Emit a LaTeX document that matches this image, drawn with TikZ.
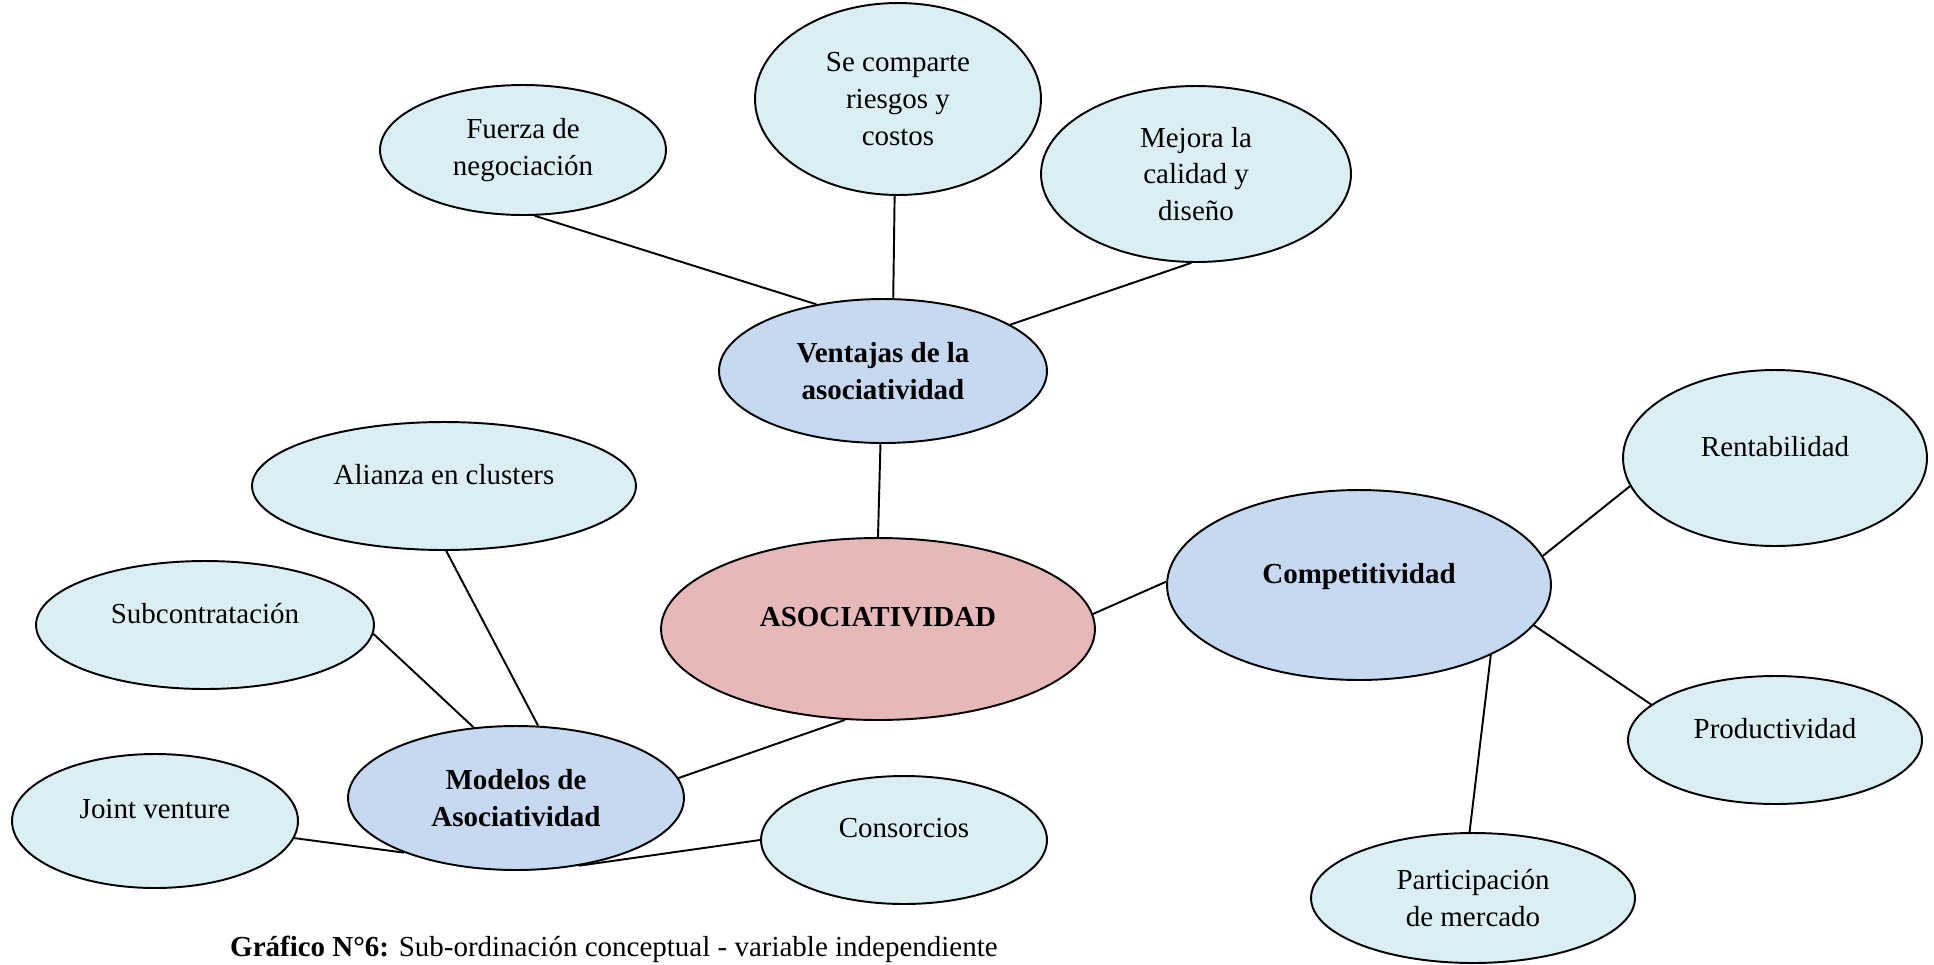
\documentclass[tikz,border=0pt]{standalone}
\usepackage{fontspec}
\setmainfont{Liberation Serif}
\usetikzlibrary{shapes.geometric}

\definecolor{leafblue}{HTML}{DBEEF4}
\definecolor{hubblue}{HTML}{C6D9F1}
\definecolor{corepink}{HTML}{E6B9B8}

\newcommand\bubblefont{\fontsize{16.5}{21}\selectfont}

\tikzset{
	bubble/.style={ellipse, draw=black, line width=1.1pt, inner sep=0pt, align=center, font=\bubblefont},
	leaf/.style={bubble, fill=leafblue},
	hub/.style={bubble, fill=hubblue, font=\bubblefont\bfseries},
	lifted/.style={text depth=0.48cm},
	link/.style={line width=1.1pt}
}

\begin{document}
\begin{tikzpicture}[x=0.02cm, y=-0.02cm]
	\useasboundingbox (0,0) rectangle (1934,964);
	\clip (0,0) rectangle (1934,964);

	% centre
	\node[bubble, fill=corepink, font=\bubblefont\bfseries, lifted, minimum width=8.68cm, minimum height=3.64cm] (asoc) at (878,629) {ASOCIATIVIDAD};

	% ventajas
	\node[hub, minimum width=6.56cm, minimum height=2.88cm] (ventajas) at (883,371) {Ventajas de la\\asociatividad};
	\node[leaf, minimum width=5.72cm, minimum height=2.6cm] (fuerza) at (523,150) {Fuerza de\\negociación};
	\node[leaf, minimum width=5.72cm, minimum height=3.84cm] (secomparte) at (898,99) {Se comparte\\riesgos y\\costos};
	\node[leaf, minimum width=6.2cm, minimum height=3.52cm] (mejora) at (1196,174) {Mejora la\\calidad y\\diseño};

	% competitividad
	\node[hub, lifted, minimum width=7.68cm, minimum height=3.8cm] (compet) at (1359,585) {Competitividad};
	\node[leaf, lifted, minimum width=6.08cm, minimum height=3.52cm] (rentab) at (1775,458) {Rentabilidad};
	\node[leaf, lifted, minimum width=5.88cm, minimum height=2.56cm] (product) at (1775,740) {Productividad};
	\node[leaf, minimum width=6.48cm, minimum height=2.6cm] (particip) at (1473,898) {Participación\\de mercado};

	% modelos
	\node[hub, minimum width=6.72cm, minimum height=2.88cm] (modelos) at (516,798) {Modelos de\\Asociatividad};
	\node[leaf, lifted, minimum width=7.68cm, minimum height=2.56cm] (alianza) at (444,486) {Alianza en clusters};
	\node[leaf, lifted, minimum width=6.76cm, minimum height=2.56cm] (subcon) at (205,625) {Subcontratación};
	\node[leaf, lifted, minimum width=5.72cm, minimum height=2.68cm] (joint) at (155,821) {Joint venture};
	\node[leaf, lifted, minimum width=5.72cm, minimum height=2.56cm] (consorcios) at (904,840) {Consorcios};

	\foreach \from/\to in {fuerza.-80/ventajas.135, secomparte.-92/ventajas.82, mejora.-93/ventajas.20,
		ventajas.-92/asoc.90, asoc.4/compet.179, compet.9/rentab.191, compet.-13/product.164,
		compet.-28/particip.93, asoc.250/modelos.7, alianza.-88/modelos.73, subcon.-3/modelos.121,
		joint.-7/modelos.206, consorcios.180/modelos.-47}
	\draw[link] (\from) -- (\to);

	\node[anchor=base west, font=\bubblefont] (caption) at (224,956) {\textbf{Gráfico N°6:} Sub-ordinación conceptual - variable independiente};
\end{tikzpicture}
\end{document}
